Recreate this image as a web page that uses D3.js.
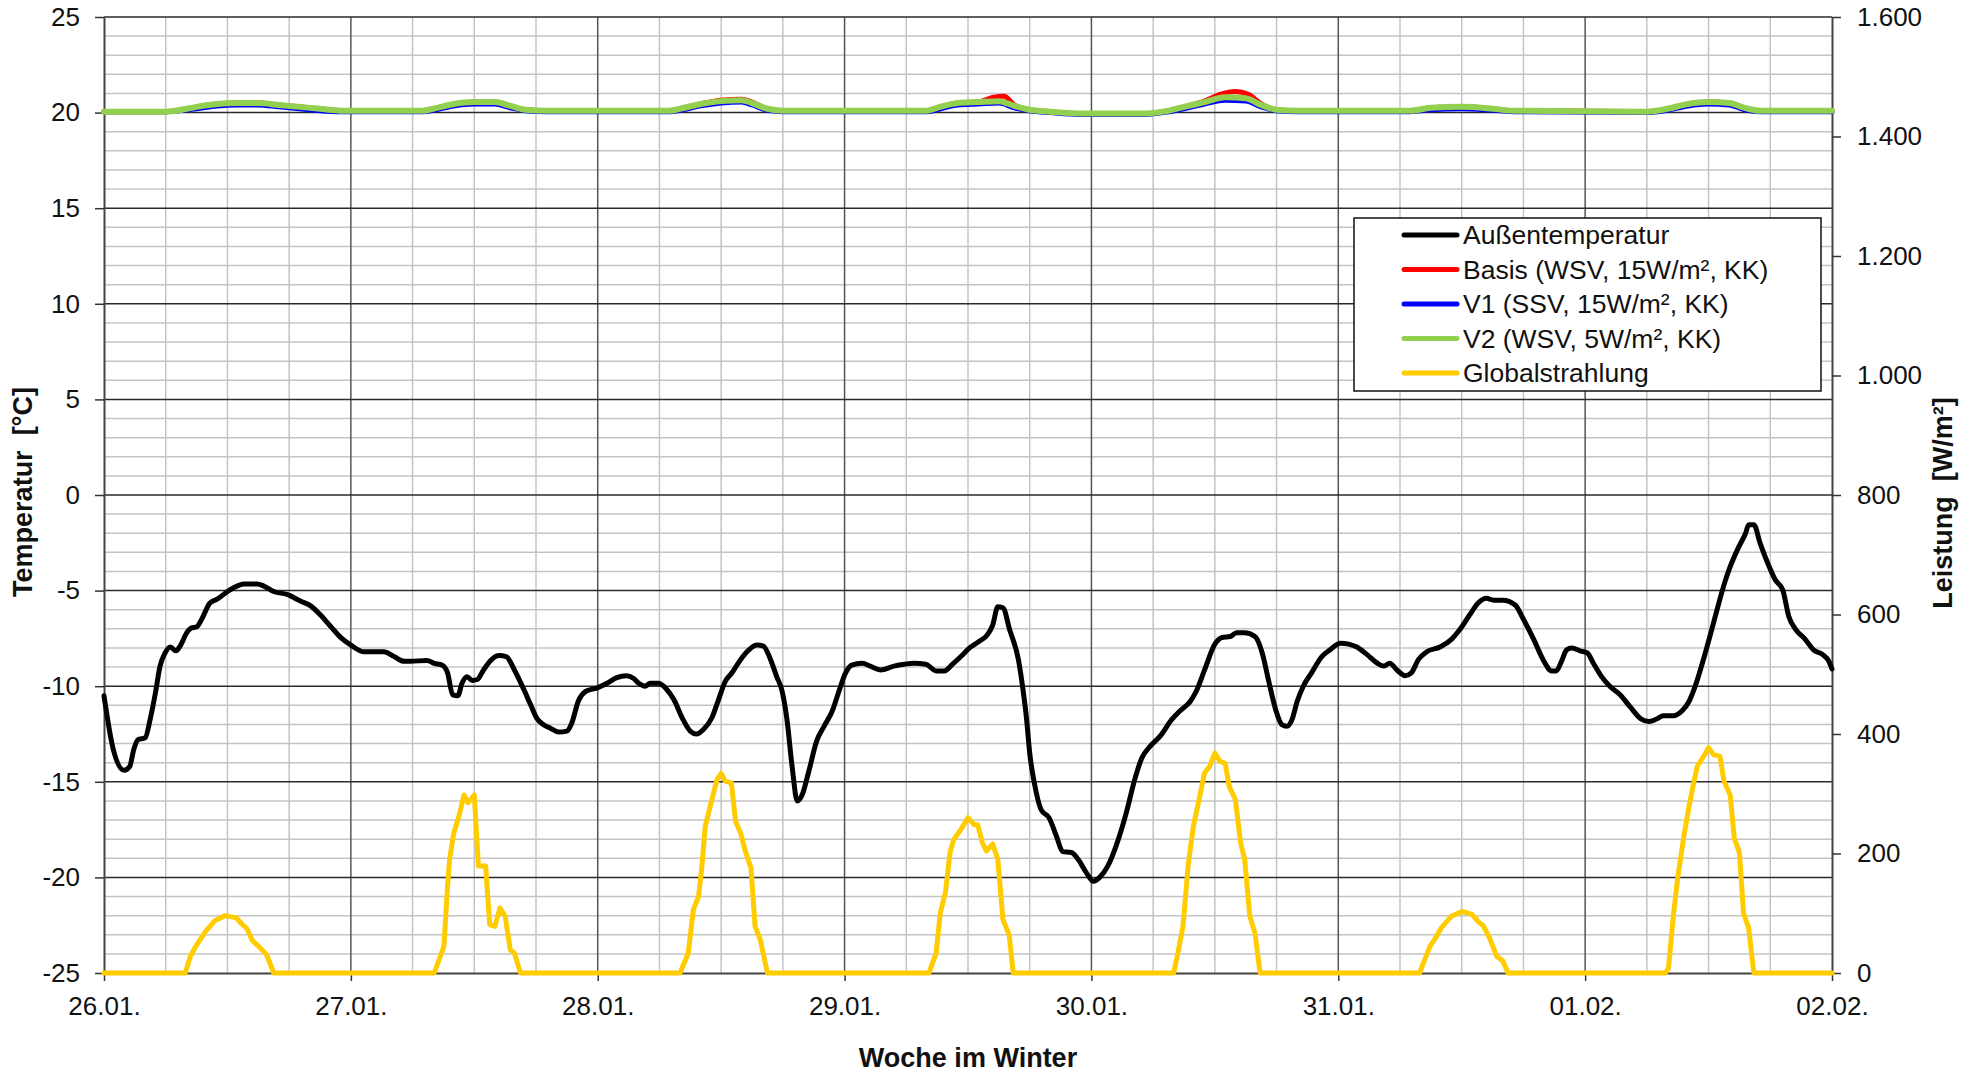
<!DOCTYPE html>
<html>
<head>
<meta charset="utf-8">
<script src="https://cdn.jsdelivr.net/npm/d3@7"></script>
<style>
  html, body { margin: 0; padding: 0; background: #fff; }
  svg { display: block; }
  text { font-family: "Liberation Sans", Arial, sans-serif; fill: #111; }
</style>
</head>
<body>
<svg id="chart" width="1976" height="1073"></svg>
<script>
// x values are hours since 26.01. 00:00
const dayLabels = ["26.01.", "27.01.", "28.01.", "29.01.", "30.01.", "31.01.", "01.02.", "02.02."];
const tempTicks = [-25, -20, -15, -10, -5, 0, 5, 10, 15, 20, 25];
const powerTicks = [0, 200, 400, 600, 800, 1000, 1200, 1400, 1600];

// Außentemperatur [°C]
const aussenTemp = [
  [0,-10.5],[0.9,-13.3],[1.95,-14.4],[2.5,-14.2],[2.9,-13.3],[3.3,-12.8],[4.0,-12.7],[4.5,-11.7],[5.0,-10.35],[5.45,-8.95],
  [5.95,-8.25],[6.45,-7.95],[7.0,-8.15],[7.4,-7.9],[8.05,-7.2],[8.5,-6.95],[9.0,-6.9],[9.5,-6.5],[10.3,-5.65],[11.0,-5.45],
  [12.0,-5.05],[12.6,-4.85],[13.6,-4.65],[14.9,-4.65],[15.5,-4.75],[16.5,-5.05],[17.8,-5.2],[19.1,-5.55],[20.1,-5.8],[21.0,-6.25],
  [22.0,-6.85],[23.0,-7.45],[24.0,-7.85],[25.3,-8.2],[27.2,-8.2],[28.2,-8.45],[29.2,-8.7],[29.8,-8.7],[31.4,-8.65],[32.1,-8.8],
  [32.9,-8.9],[33.4,-9.3],[33.9,-10.45],[34.4,-10.5],[34.8,-9.85],[35.3,-9.5],[35.8,-9.7],[36.3,-9.65],[36.9,-9.15],[37.7,-8.6],
  [38.4,-8.4],[39.1,-8.45],[39.9,-9.15],[40.8,-10.15],[41.5,-11.0],[42.1,-11.7],[42.7,-12.0],[43.4,-12.2],[44.2,-12.4],[45.0,-12.35],
  [45.5,-11.9],[46.1,-10.8],[46.9,-10.25],[47.9,-10.1],[48.9,-9.85],[49.85,-9.55],[50.8,-9.45],[51.5,-9.6],[52.0,-9.85],[52.6,-10.0],
  [53.1,-9.85],[53.9,-9.85],[54.6,-10.1],[55.4,-10.7],[56.3,-11.75],[57.0,-12.35],[57.6,-12.5],[58.3,-12.25],[59.1,-11.65],[59.75,-10.7],
  [60.4,-9.75],[61.05,-9.3],[61.9,-8.6],[62.7,-8.1],[63.5,-7.85],[64.1,-7.9],[64.8,-8.6],[65.4,-9.5],[65.9,-10.2],[66.4,-11.75],
  [66.9,-14.2],[67.4,-16.0],[67.9,-15.65],[68.5,-14.5],[69.3,-12.85],[70.0,-12.1],[70.8,-11.3],[71.4,-10.35],[72.1,-9.3],[72.7,-8.9],
  [73.7,-8.8],[74.5,-8.95],[75.5,-9.15],[76.8,-8.95],[77.8,-8.85],[78.75,-8.8],[79.9,-8.85],[80.9,-9.2],[81.7,-9.2],[82.5,-8.85],
  [83.3,-8.45],[84.15,-8.0],[85.1,-7.65],[85.9,-7.3],[86.4,-6.8],[86.9,-5.85],[87.4,-5.9],[88.05,-7.05],[88.9,-8.6],[89.3,-10.0],
  [89.7,-11.75],[90.0,-13.5],[90.5,-15.2],[91.1,-16.45],[91.9,-16.9],[92.6,-17.85],[93.2,-18.65],[94.05,-18.7],[94.7,-19.05],[95.5,-19.75],
  [96.2,-20.2],[96.8,-20.0],[97.6,-19.4],[98.4,-18.35],[99.4,-16.6],[100.2,-14.9],[100.9,-13.75],[101.7,-13.15],[102.7,-12.6],[103.8,-11.75],
  [104.6,-11.3],[105.6,-10.8],[106.2,-10.25],[107.0,-9.15],[108.0,-7.8],[108.7,-7.45],[109.5,-7.4],[110.1,-7.2],[110.9,-7.2],[111.9,-7.4],
  [112.6,-8.25],[113.2,-9.65],[113.9,-11.2],[114.5,-12.0],[115.0,-12.1],[115.5,-11.75],[116.0,-10.8],[116.6,-10.0],[117.4,-9.3],[118.4,-8.45],
  [119.2,-8.1],[120.2,-7.75],[121.0,-7.8],[121.8,-7.95],[122.8,-8.35],[123.8,-8.8],[124.4,-8.95],[125.0,-8.8],[125.7,-9.15],[126.5,-9.45],
  [127.1,-9.3],[127.8,-8.6],[128.6,-8.2],[129.9,-7.95],[131.0,-7.55],[131.8,-7.05],[132.8,-6.25],[133.6,-5.65],[134.4,-5.4],[135.1,-5.5],
  [136.0,-5.5],[137.2,-5.75],[138.0,-6.5],[139.0,-7.55],[139.9,-8.6],[140.75,-9.2],[141.2,-9.2],[141.7,-8.7],[142.2,-8.1],[142.7,-8.0],
  [143.5,-8.15],[144.2,-8.25],[144.8,-8.8],[145.6,-9.5],[146.4,-10.0],[147.4,-10.45],[148.4,-11.1],[149.4,-11.7],[150.2,-11.85],[151.0,-11.7],
  [151.6,-11.55],[152.6,-11.55],[153.4,-11.3],[154.1,-10.8],[154.7,-10.0],[155.5,-8.6],[156.3,-7.05],[157.0,-5.65],[157.5,-4.7],[158.1,-3.75],
  [158.9,-2.75],[159.6,-2.0],[159.9,-1.55],[160.4,-1.55],[161.0,-2.5],[161.9,-3.75],[162.5,-4.45],[163.2,-4.95],[163.8,-6.35],[164.5,-7.05],
  [165.4,-7.55],[166.2,-8.1],[167.1,-8.35],[167.7,-8.7],[168,-9.1]
];

// Basis (WSV, 15W/m², KK) room temperature [°C]
const basisTemp = [
  [0,20.05],[6,20.05],[7,20.1],[9,20.3],[11,20.45],[13,20.5],[15,20.5],[17,20.4],[19,20.3],[21,20.2],[23,20.1],
  [31,20.1],[32,20.2],[34,20.45],[36,20.55],[38,20.55],[39.5,20.35],[41,20.15],[43,20.1],
  [55,20.1],[56,20.2],[58,20.45],[60,20.65],[62,20.7],[63,20.55],[64.5,20.2],[66,20.1],
  [80,20.1],[81,20.25],[83,20.5],[85,20.55],[86.5,20.8],[87.5,20.85],[88.5,20.4],[90,20.15],[92,20.05],[95,19.95],[101,19.95],
  [103,20.05],[105,20.3],[107,20.6],[108.5,20.95],[110,21.1],[111.3,20.95],[112.5,20.45],[114,20.15],[116,20.1],
  [127,20.1],[129,20.25],[132,20.3],[135,20.2],[137,20.1],
  [150,20.05],[152,20.2],[154,20.45],[156,20.55],[158,20.5],[159.5,20.25],[161,20.1],[168,20.1]
];

// V1 (SSV, 15W/m², KK) room temperature [°C]
const v1Temp = [
  [0,20.05],[6,20.05],[7,20.08],[9,20.2],[11,20.35],[13,20.4],[15,20.4],[17,20.3],[19,20.2],[21,20.1],[23,20.05],
  [31,20.05],[32,20.12],[34,20.35],[36,20.45],[38,20.45],[39.5,20.25],[41,20.1],[43,20.05],
  [55,20.05],[56,20.12],[58,20.35],[60,20.5],[62,20.55],[63,20.4],[64.5,20.12],[66,20.05],
  [80,20.05],[81,20.15],[83,20.4],[85,20.45],[87,20.5],[88.5,20.25],[90,20.1],[92,20.0],[95,19.9],[101,19.9],
  [103,20.0],[105,20.2],[107,20.45],[109,20.65],[111,20.6],[112.5,20.3],[114,20.1],[116,20.05],
  [127,20.05],[129,20.15],[132,20.2],[135,20.12],[137,20.05],
  [150,20.0],[152,20.12],[154,20.35],[156,20.45],[158,20.4],[159.5,20.15],[161,20.05],[168,20.05]
];

// V2 (WSV, 5W/m², KK) room temperature [°C]
const v2Temp = [
  [0,20.05],[6,20.05],[7,20.1],[9,20.3],[11,20.45],[13,20.5],[15,20.5],[17,20.4],[19,20.3],[21,20.2],[23,20.1],
  [31,20.1],[32,20.2],[34,20.45],[36,20.55],[38,20.55],[39.5,20.35],[41,20.15],[43,20.1],
  [55,20.1],[56,20.2],[58,20.45],[60,20.6],[62,20.65],[63,20.5],[64.5,20.2],[66,20.1],
  [80,20.1],[81,20.25],[83,20.5],[85,20.55],[87,20.6],[88.5,20.35],[90,20.15],[92,20.05],[95,19.95],[101,19.95],
  [103,20.05],[105,20.3],[107,20.55],[109,20.8],[111,20.75],[112.5,20.4],[114,20.15],[116,20.1],
  [127,20.1],[129,20.25],[132,20.3],[135,20.2],[137,20.1],
  [150,20.05],[152,20.2],[154,20.45],[156,20.55],[158,20.5],[159.5,20.25],[161,20.1],[168,20.1]
];

// Globalstrahlung [W/m²]
const globalStrahlung = [
  [0,0],[7.9,0],[8.4,28],[8.9,44],[9.35,56],[9.9,70],[10.8,88],[11.8,96],[12.4,94],[12.9,92],[13.4,82],[13.9,74],[14.4,55],[15.0,45],[15.8,31],[16.5,0],
  [32.1,0],[32.7,28],[33.05,45],[33.4,145],[33.6,190],[34.0,234],[34.5,262],[35.0,298],[35.4,285],[36.0,298],[36.4,179],[37.1,179],[37.5,81],[38.0,78],[38.5,109],[39.0,95],[39.5,39],[39.9,33],[40.5,0],
  [56.0,0],[56.8,33],[57.3,106],[57.8,128],[58.1,173],[58.45,245],[59.1,290],[59.6,324],[60.0,334],[60.4,321],[61.0,318],[61.4,254],[61.9,234],[62.35,204],[62.9,176],[63.3,78],[63.8,56],[64.5,0],
  [80.2,0],[80.9,33],[81.3,100],[81.8,134],[82.25,201],[82.6,223],[83.3,240],[84.0,260],[84.6,248],[84.95,248],[85.4,218],[85.8,204],[86.4,216],[86.9,190],[87.4,89],[88.0,64],[88.4,0],
  [104.0,0],[104.4,33],[104.9,78],[105.4,179],[105.9,245],[106.4,285],[107.0,335],[107.5,346],[108.0,368],[108.5,354],[109.0,351],[109.4,312],[110.0,290],[110.5,218],[110.9,190],[111.4,95],[111.9,67],[112.4,0],
  [127.9,0],[128.4,22],[128.9,44],[129.4,57],[130.0,75],[131.0,95],[132.0,103],[133.0,98],[133.6,86],[134.1,79],[134.7,59],[135.4,28],[136.0,20],[136.5,0],
  [151.8,0],[152.1,8],[152.6,100],[153.0,159],[153.6,229],[154.1,279],[154.55,318],[154.9,346],[155.5,362],[156.0,377],[156.5,365],[157.1,363],[157.5,321],[158.1,298],[158.5,226],[159.0,201],[159.4,100],[159.9,75],[160.4,0],[168,0]
];

const legendItems = [
  { label: "Außentemperatur", color: "#000000" },
  { label: "Basis (WSV, 15W/m², KK)", color: "#ff0000" },
  { label: "V1 (SSV, 15W/m², KK)", color: "#0000ff" },
  { label: "V2 (WSV, 5W/m², KK)", color: "#92d050" },
  { label: "Globalstrahlung", color: "#ffcc00" }
];

const plot = { left: 104, right: 1832, top: 17, bottom: 973 };
const svg = d3.select("#chart");

const x = d3.scaleLinear().domain([0, 168]).range([plot.left, plot.right]);
const yT = d3.scaleLinear().domain([-25, 25]).range([plot.bottom, plot.top]);
const yP = d3.scaleLinear().domain([0, 1600]).range([plot.bottom, plot.top]);

const de = d3.formatLocale({ decimal: ",", thousands: ".", grouping: [3], currency: ["", " €"] });
const fmtPower = de.format(",");

// grid: minor lines every 1 °C and every 6 h, major every 5 °C and every day
const grid = svg.append("g");
const minorT = d3.range(-24, 25).filter(v => v % 5 !== 0);
const minorH = d3.range(6, 168, 6).filter(h => h % 24 !== 0);
grid.selectAll(".mh").data(minorT).join("line")
  .attr("x1", plot.left).attr("x2", plot.right)
  .attr("y1", d => yT(d)).attr("y2", d => yT(d))
  .attr("stroke", "#c4c4c4").attr("stroke-width", 1.5);
grid.selectAll(".mv").data(minorH).join("line")
  .attr("x1", d => x(d)).attr("x2", d => x(d))
  .attr("y1", plot.top).attr("y2", plot.bottom)
  .attr("stroke", "#c4c4c4").attr("stroke-width", 1.5);
grid.selectAll(".Mv").data(d3.range(24, 168, 24)).join("line")
  .attr("x1", d => x(d)).attr("x2", d => x(d))
  .attr("y1", plot.top).attr("y2", plot.bottom)
  .attr("stroke", "#555").attr("stroke-width", 1.5);
grid.selectAll(".Mh").data(tempTicks.filter(v => v > -25)).join("line")
  .attr("x1", plot.left).attr("x2", plot.right)
  .attr("y1", d => yT(d)).attr("y2", d => yT(d))
  .attr("stroke", "#2a2a2a").attr("stroke-width", 1.5);

// axes
function styleAxis(g) {
  g.selectAll("path.domain").attr("stroke", "#444").attr("stroke-width", 2);
  g.selectAll(".tick line").attr("stroke", "#333").attr("stroke-width", 1.5);
  g.selectAll(".tick text").style("font-size", "26px").style("font-family", "'Liberation Sans', Arial, sans-serif").attr("fill", "#111");
}

svg.append("g").attr("transform", `translate(${plot.left},0)`)
  .call(d3.axisLeft(yT).tickValues(tempTicks).tickFormat(d => String(d)).tickSize(9).tickSizeOuter(0).tickPadding(15))
  .call(styleAxis);

svg.append("g").attr("transform", `translate(${plot.right},0)`)
  .call(d3.axisRight(yP).tickValues(powerTicks).tickFormat(fmtPower).tickSize(9).tickSizeOuter(0).tickPadding(16))
  .call(styleAxis);

svg.append("g").attr("transform", `translate(0,${plot.bottom})`)
  .call(d3.axisBottom(x).tickValues(d3.range(0, 169, 24)).tickFormat((d, i) => dayLabels[i]).tickSize(8).tickSizeOuter(0).tickPadding(16))
  .call(styleAxis);

// series
const lineT = d3.line().x(d => x(d[0])).y(d => yT(d[1])).curve(d3.curveMonotoneX);
const lineP = d3.line().x(d => x(d[0])).y(d => yP(d[1]));

const series = svg.append("g").attr("fill", "none").attr("stroke-linejoin", "round").attr("stroke-linecap", "round");
series.append("path").datum(globalStrahlung).attr("d", lineP).attr("stroke", "#ffcc00").attr("stroke-width", 5);
series.append("path").datum(aussenTemp).attr("d", lineT).attr("stroke", "#000").attr("stroke-width", 5);
series.append("path").datum(basisTemp).attr("d", lineT).attr("stroke", "#ff0000").attr("stroke-width", 5);
series.append("path").datum(v1Temp).attr("d", lineT).attr("stroke", "#0000ff").attr("stroke-width", 5);
series.append("path").datum(v2Temp).attr("d", lineT).attr("stroke", "#92d050").attr("stroke-width", 6);

// axis titles
function title(sel) {
  return sel.attr("text-anchor", "middle")
    .style("font-size", "27px").style("font-weight", "bold").style("white-space", "pre")
    .attr("xml:space", "preserve");
}
svg.append("text")
  .attr("transform", `translate(32,${(plot.top + plot.bottom) / 2 - 3}) rotate(-90)`)
  .call(title).text("Temperatur  [°C]");
svg.append("text")
  .attr("transform", `translate(1952,${(plot.top + plot.bottom) / 2 + 8}) rotate(-90)`)
  .call(title).text("Leistung  [W/m²]");
svg.append("text")
  .attr("x", (plot.left + plot.right) / 2).attr("y", 1067)
  .call(title).text("Woche im Winter");

// legend
const lg = svg.append("g");
lg.append("rect").attr("x", 1354).attr("y", 218).attr("width", 467).attr("height", 173)
  .attr("fill", "#fff").attr("stroke", "#111").attr("stroke-width", 1.5);
const rows = lg.selectAll("g.row").data(legendItems).join("g")
  .attr("transform", (d, i) => `translate(0,${235 + i * 34.5})`);
rows.append("line").attr("x1", 1404).attr("x2", 1457).attr("y1", 0).attr("y2", 0)
  .attr("stroke", d => d.color).attr("stroke-width", 5).attr("stroke-linecap", "round");
rows.append("text").attr("x", 1463).attr("y", 0).attr("dy", "0.35em")
  .style("font-size", "26.5px").text(d => d.label);
</script>
</body>
</html>
